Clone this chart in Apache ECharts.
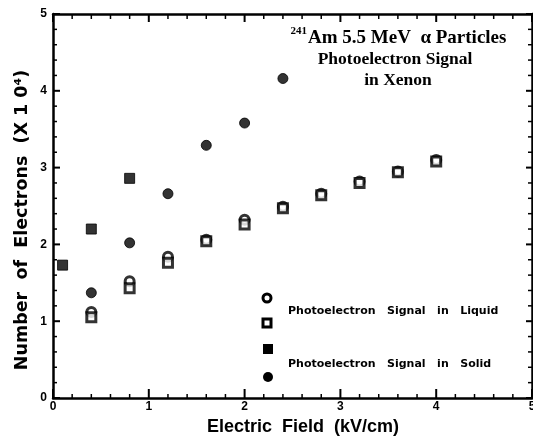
<!DOCTYPE html>
<html>
<head>
<meta charset="utf-8">
<script src="https://cdn.jsdelivr.net/npm/echarts@6/dist/echarts.min.js"></script>
<style>
  html, body { margin: 0; padding: 0; background: #fff; }
  #chart { width: 533px; height: 437px; }
</style>
</head>
<body>
<div id="chart"></div>
<script>
// Electric field values (kV/cm)
const fieldLiquid = [0.4, 0.8, 1.2, 1.6, 2.0, 2.4, 2.8, 3.2, 3.6, 4.0];
const fieldSolidSquare = [0.1, 0.4, 0.8];
const fieldSolidCircle = [0.4, 0.8, 1.2, 1.6, 2.0, 2.4];

// Number of electrons (x 10^4)
const liquidCircle = [1.12, 1.52, 1.84, 2.06, 2.32, 2.49, 2.66, 2.82, 2.95, 3.10];
const liquidSquare = [1.05, 1.43, 1.76, 2.04, 2.26, 2.47, 2.64, 2.80, 2.94, 3.08];
const solidSquare = [1.73, 2.20, 2.86];
const solidCircle = [1.37, 2.02, 2.66, 3.29, 3.58, 4.16];

// Axis range, labelled step and minor subdivisions (labels 0..5 on both axes)
const axisMin = 0;
const axisMax = 5;
const axisStep = 1;
const minorPerStep = 5;

const pairs = (xs, ys) => xs.map((x, i) => [x, ys[i]]);

const chart = echarts.init(document.getElementById('chart'), null, { renderer: 'canvas' });

function axisDef(kind, pos, showLabels) {
  return {
    type: 'value', position: pos, min: axisMin, max: axisMax, interval: axisStep,
    axisLine: { show: true, onZero: false, lineStyle: { color: '#000', width: 2.5 } },
    axisTick: { show: false },
    splitLine: { show: false },
    axisLabel: {
      show: showLabels, margin: kind === 'x' ? 3 : 6,
      fontFamily: 'Liberation Sans', fontWeight: 'bold', fontSize: 12, color: '#000'
    }
  };
}

const xBottom = axisDef('x', 'bottom', true);
xBottom.name = 'Electric  Field  (kV/cm)';
xBottom.nameLocation = 'middle';
xBottom.nameGap = 19;
xBottom.nameTextStyle = { fontFamily: 'Liberation Sans', fontWeight: 'bold', fontSize: 18, color: '#000', padding: [0, 0, 0, 21] };

const yLeft = axisDef('y', 'left', true);
const xTop = axisDef('x', 'top', false);
const yRight = axisDef('y', 'right', false);

const legendFont = { fontFamily: 'DejaVu Sans', fontWeight: 'bold', fontSize: 11, fill: '#000' };
const titleFont = { fontFamily: 'Liberation Serif', fontWeight: 'bold', fill: '#000' };

const baseGraphic = [
  // y-axis title, reading upwards
  { type: 'text', x: 22, y: 220, rotation: Math.PI / 2,
    style: { text: 'Number  of  Electrons  (X 1 0\u2074)', fontFamily: 'DejaVu Sans', fontWeight: 'bold', fontSize: 17.5,
      fill: '#000', textAlign: 'center', textVerticalAlign: 'middle' } },
  // legend key
  { type: 'circle', shape: { cx: 267, cy: 298, r: 4 }, style: { fill: '#fff', stroke: '#000', lineWidth: 3 } },
  { type: 'rect', shape: { x: 263, y: 319, width: 8, height: 8 }, style: { fill: '#fff', stroke: '#000', lineWidth: 3 } },
  { type: 'rect', shape: { x: 263, y: 344, width: 10, height: 10 }, style: { fill: '#000' } },
  { type: 'circle', shape: { cx: 268, cy: 377, r: 5 }, style: { fill: '#000' } },
  { type: 'text', left: 288, top: 306, style: Object.assign({ text: 'Photoelectron   Signal   in   Liquid' }, legendFont) },
  { type: 'text', left: 288, top: 359, style: Object.assign({ text: 'Photoelectron   Signal   in   Solid' }, legendFont) },
  // title block
  { type: 'text', x: 307, y: 37, style: Object.assign({ text: '241', fontSize: 11, textAlign: 'right', textVerticalAlign: 'bottom' }, titleFont) },
  { type: 'text', x: 308, y: 38, style: Object.assign({ text: 'Am 5.5 MeV  \u03b1 Particles', fontSize: 19, textAlign: 'left', textVerticalAlign: 'middle' }, titleFont) },
  { type: 'text', x: 395, y: 59, style: Object.assign({ text: 'Photoelectron Signal', fontSize: 17.5, textAlign: 'center', textVerticalAlign: 'middle' }, titleFont) },
  { type: 'text', x: 398, y: 80, style: Object.assign({ text: 'in Xenon', fontSize: 17.5, textAlign: 'center', textVerticalAlign: 'middle' }, titleFont) }
];

chart.setOption({
  animation: false,
  backgroundColor: '#fff',
  grid: { left: 53, right: 1, top: 14, bottom: 39, containLabel: false, outerBoundsMode: 'none' },
  xAxis: [xBottom, xTop],
  yAxis: [yLeft, yRight],
  series: [
    { name: 'Liquid (circle)', type: 'scatter', symbol: 'circle', symbolSize: 9,
      itemStyle: { color: '#fff', borderColor: '#000', borderWidth: 3 },
      data: pairs(fieldLiquid, liquidCircle), z: 3 },
    { name: 'Liquid (square)', type: 'scatter', symbol: 'rect', symbolSize: 9,
      itemStyle: { color: '#fff', borderColor: '#000', borderWidth: 3 },
      data: pairs(fieldLiquid, liquidSquare), z: 3 },
    { name: 'Solid (square)', type: 'scatter', symbol: 'rect', symbolSize: 10,
      itemStyle: { color: '#000', borderColor: '#000', borderWidth: 1 },
      data: pairs(fieldSolidSquare, solidSquare), z: 4 },
    { name: 'Solid (circle)', type: 'scatter', symbol: 'circle', symbolSize: 10,
      itemStyle: { color: '#000', borderColor: '#000', borderWidth: 1 },
      data: pairs(fieldSolidCircle, solidCircle), z: 4 }
  ],
  graphic: baseGraphic
});

// Inward-pointing major and minor ticks on all four sides of the frame,
// placed through the axes' own value-to-pixel scales.
function frameTicks() {
  const px = v => chart.convertToPixel({ xAxisIndex: 0 }, v);
  const py = v => chart.convertToPixel({ yAxisIndex: 0 }, v);
  const xL = px(axisMin), xR = px(axisMax);
  const yB = py(axisMin), yT = py(axisMax);
  const out = [];
  const count = Math.round((axisMax - axisMin) / axisStep * minorPerStep);
  const tick = (x1, y1, x2, y2, w) => out.push({
    type: 'line', silent: true, z: 10,
    shape: { x1: x1, y1: y1, x2: x2, y2: y2 },
    style: { stroke: '#000', lineWidth: w }
  });
  for (let i = 0; i <= count; i++) {
    const v = axisMin + i * axisStep / minorPerStep;
    const major = i % minorPerStep === 0;
    const w = major ? 2 : 1.5;
    const x = px(v), y = py(v);
    tick(x, yB, x, yB - (major ? 9 : 4), w);   // bottom
    tick(x, yT, x, yT + (major ? 8 : 5), w);   // top
    tick(xL, y, xL + (major ? 7 : 4), y, w);   // left
    tick(xR, y, xR - (major ? 6 : 4), y, w);   // right
  }
  return out;
}

chart.setOption({ graphic: baseGraphic.concat(frameTicks()) });
</script>
</body>
</html>
